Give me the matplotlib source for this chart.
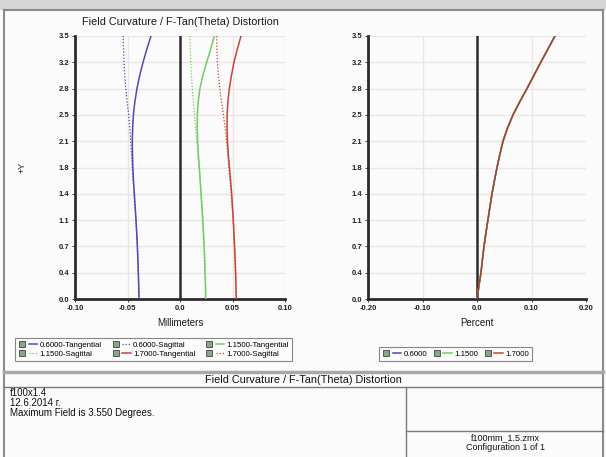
import matplotlib.pyplot as plt
from matplotlib.lines import Line2D
from matplotlib.patches import Rectangle
from matplotlib.legend_handler import HandlerTuple

plt.rcParams['font.family'] = ['Liberation Sans', 'DejaVu Sans']

# field heights (degrees), sampled every half tick
field = [0.0, 0.1775, 0.355, 0.5325, 0.71, 0.8875, 1.065, 1.2425, 1.42, 1.5975, 1.775,
         1.9525, 2.13, 2.3075, 2.485, 2.6625, 2.84, 3.0175, 3.195, 3.3725, 3.55]
field_ticks = [0.0, 0.355, 0.71, 1.065, 1.42, 1.775, 2.13, 2.485, 2.84, 3.195, 3.55]
field_labels = ['0.0', '0.4', '0.7', '1.1', '1.4', '1.8', '2.1', '2.5', '2.8', '3.2', '3.5']

# field curvature, millimeters
tan_0600 = [-0.0390, -0.0393, -0.0397, -0.0401, -0.0406, -0.0412, -0.0419, -0.0427, -0.0435, -0.0443, -0.0449,
            -0.0453, -0.0454, -0.0451, -0.0444, -0.0430, -0.0410, -0.0384, -0.0352, -0.0316, -0.0276]
sag_0600 = [-0.0390, -0.0393, -0.0397, -0.0401, -0.0406, -0.0413, -0.0420, -0.0428, -0.0437, -0.0446, -0.0455,
            -0.0462, -0.0469, -0.0478, -0.0489, -0.0503, -0.0516, -0.0526, -0.0533, -0.0538, -0.0541]
tan_1150 = [0.0245, 0.0242, 0.0238, 0.0234, 0.0229, 0.0223, 0.0216, 0.0208, 0.0200, 0.0192, 0.0184,
            0.0175, 0.0168, 0.0164, 0.0165, 0.0173, 0.0190, 0.0217, 0.0254, 0.0292, 0.0327]
sag_1150 = [0.0245, 0.0244, 0.0242, 0.0238, 0.0233, 0.0227, 0.0220, 0.0212, 0.0203, 0.0193, 0.0183,
            0.0172, 0.0160, 0.0148, 0.0137, 0.0126, 0.0117, 0.0109, 0.0103, 0.0098, 0.0095]
tan_1700 = [0.0536, 0.0533, 0.0530, 0.0525, 0.0520, 0.0514, 0.0508, 0.0500, 0.0492, 0.0482, 0.0471,
            0.0460, 0.0452, 0.0448, 0.0449, 0.0456, 0.0470, 0.0490, 0.0514, 0.0546, 0.0581]
sag_1700 = [0.0536, 0.0532, 0.0528, 0.0524, 0.0518, 0.0512, 0.0505, 0.0497, 0.0488, 0.0477, 0.0465,
            0.0455, 0.0444, 0.0430, 0.0413, 0.0396, 0.0380, 0.0366, 0.0356, 0.0351, 0.0350]

# F-Tan(Theta) distortion, percent
distortion = [0.0, 0.0035, 0.0073, 0.0100, 0.0128, 0.0163, 0.0200, 0.0237, 0.0275, 0.0320, 0.0367,
              0.0420, 0.0477, 0.0560, 0.0660, 0.0785, 0.0917, 0.1043, 0.1170, 0.1300, 0.1430]

wavelengths = ['0.6000', '1.1500', '1.7000']
colors = ['#5646b6', '#74cc64', '#c4463a']

mm_ticks = [-0.10, -0.05, 0.0, 0.05, 0.10]
mm_labels = ['-0.10', '-0.05', '0.0', '0.05', '0.10']
pct_ticks = [-0.20, -0.10, 0.0, 0.10, 0.20]
pct_labels = ['-0.20', '-0.10', '0.0', '0.10', '0.20']

W, H = 606, 457
fig = plt.figure(figsize=(W / 100, H / 100), dpi=100)
fig.patch.set_facecolor('#fbfbfb')


def fx(x):
    return x / W


def fy(y):
    return 1 - y / H


def fline(x0, y0, x1, y1, **kw):
    fig.add_artist(Line2D([fx(x0), fx(x1)], [fy(y0), fy(y1)], transform=fig.transFigure, **kw))


# window chrome and page frame
fig.add_artist(Rectangle((0, fy(9)), 1, 9 / H, transform=fig.transFigure, color='#d6d6d6', zorder=0))
fline(4, 10, 603, 10, color='#8a8a8a', lw=1.5)
fline(4, 10, 4, 457, color='#8a8a8a', lw=1.5)
fline(603, 10, 603, 457, color='#8a8a8a', lw=1.5)
fline(4, 371.5, 603, 371.5, color='#a8a8a8', lw=2.5)
fline(4, 387, 603, 387, color='#7a7a7a', lw=1)
fline(406, 387, 406, 457, color='#7a7a7a', lw=1)
fline(406, 431, 603, 431, color='#7a7a7a', lw=1)


def style(ax, xlim, xticks, xlabels):
    ax.set_facecolor('none')
    ax.set_xlim(xlim)
    ax.set_ylim(0, 3.55)
    ax.set_xticks(xticks)
    ax.set_xticklabels(xlabels)
    ax.set_yticks(field_ticks)
    ax.set_yticklabels(field_labels)
    ax.grid(True, color='#efe4e4', lw=1)
    ax.set_axisbelow(True)
    for s in ['top', 'right']:
        ax.spines[s].set_visible(False)
    for s in ['left', 'bottom']:
        ax.spines[s].set_linewidth(2)
        ax.spines[s].set_color('#2c2c2c')
    ax.axvline(0, color='#2c2c2c', lw=1.8, zorder=1)
    ax.tick_params(labelsize=5.5, length=2, width=0.6, pad=2, colors='#222222')
    for lab in ax.get_xticklabels() + ax.get_yticklabels():
        lab.set_fontweight('bold')


ax1 = fig.add_axes([fx(75), fy(299), 210 / W, 263 / H])
ax2 = fig.add_axes([fx(368), fy(299), 218 / W, 263 / H])
style(ax1, (-0.10, 0.10), mm_ticks, mm_labels)
style(ax2, (-0.20, 0.20), pct_ticks, pct_labels)

tans = [tan_0600, tan_1150, tan_1700]
sags = [sag_0600, sag_1150, sag_1700]
tan_lines, sag_lines = [], []
for w, c, t, s in zip(wavelengths, colors, tans, sags):
    ls, = ax1.plot(s, field, color=c, lw=0.9, linestyle=(0, (1, 1.5)), zorder=3)
    lt, = ax1.plot(t, field, color=c, lw=1.1, zorder=4)
    tan_lines.append(lt)
    sag_lines.append(ls)

dist_lines = []
for w, c in zip(wavelengths, colors):
    ld, = ax2.plot(distortion, field, color=c, lw=1.1, zorder=4)
    dist_lines.append(ld)
dist_lines[-1].set_color('#a8402e')

# titles and labels
fig.text(fx(180), fy(22), 'Field Curvature / F-Tan(Theta) Distortion', ha='center', va='center',
         fontsize=7.8, color='#1a1a1a')
fig.text(fx(180), fy(323), 'Millimeters', ha='center', va='center', fontsize=7, color='#1a1a1a')
fig.text(fx(477), fy(323), 'Percent', ha='center', va='center', fontsize=7, color='#1a1a1a')
fig.text(fx(22), fy(167), '+Y', ha='center', va='center', rotation=90, fontsize=6.5, color='#1a1a1a')


def box_handle():
    return Line2D([], [], marker='s', markersize=4, color='#86a886', markeredgecolor='#3a4a3a',
                  markeredgewidth=0.6, linestyle='none')


# left legend (order arranged for column-wise fill)
entries = [(tan_lines[0], '0.6000-Tangential'), (sag_lines[1], '1.1500-Sagittal'),
           (sag_lines[0], '0.6000-Sagittal'), (tan_lines[2], '1.7000-Tangential'),
           (tan_lines[1], '1.1500-Tangential'), (sag_lines[2], '1.7000-Sagittal')]
leg1 = fig.legend([(box_handle(), h) for h, _ in entries], [l for _, l in entries],
                  handler_map={tuple: HandlerTuple(ndivide=None, pad=0.3)},
                  loc='upper left', bbox_to_anchor=(fx(15), fy(338)), ncol=3,
                  fontsize=5.7, frameon=True, fancybox=False, edgecolor='#6a6a6a',
                  handlelength=2.4, handletextpad=0.3, columnspacing=1.25,
                  borderpad=0.4, labelspacing=0.2, borderaxespad=0)
leg1.get_frame().set_linewidth(0.8)
leg1.get_frame().set_facecolor('#fdfdfd')

leg2 = fig.legend([(box_handle(), h) for h in dist_lines[:2]] + [(box_handle(), tan_lines[2])],
                  wavelengths,
                  handler_map={tuple: HandlerTuple(ndivide=None, pad=0.3)},
                  loc='upper left', bbox_to_anchor=(fx(379), fy(347)), ncol=3,
                  fontsize=5.7, frameon=True, fancybox=False, edgecolor='#6a6a6a',
                  handlelength=2.4, handletextpad=0.3, columnspacing=0.7,
                  borderpad=0.4, borderaxespad=0)
leg2.get_frame().set_linewidth(0.8)
leg2.get_frame().set_facecolor('#fdfdfd')

# text block
fig.text(fx(303), fy(380), 'Field Curvature / F-Tan(Theta) Distortion', ha='center', va='center',
         fontsize=7.8, color='#111111')
fig.text(fx(10), fy(393.5), 'f100x1.4', ha='left', va='center', fontsize=7, color='#111111')
fig.text(fx(10), fy(403), '12.6.2014 г.', ha='left', va='center', fontsize=7, color='#111111')
fig.text(fx(10), fy(412.5), 'Maximum Field is 3.550 Degrees.', ha='left', va='center', fontsize=7,
         color='#111111')
fig.text(fx(505), fy(437.5), 'f100mm_1.5.zmx', ha='center', va='center', fontsize=6.5, color='#111111')
fig.text(fx(505), fy(448), 'Configuration 1 of 1', ha='center', va='center', fontsize=6.5,
         color='#111111')

fig.savefig('out.png', dpi=100, facecolor=fig.get_facecolor())
